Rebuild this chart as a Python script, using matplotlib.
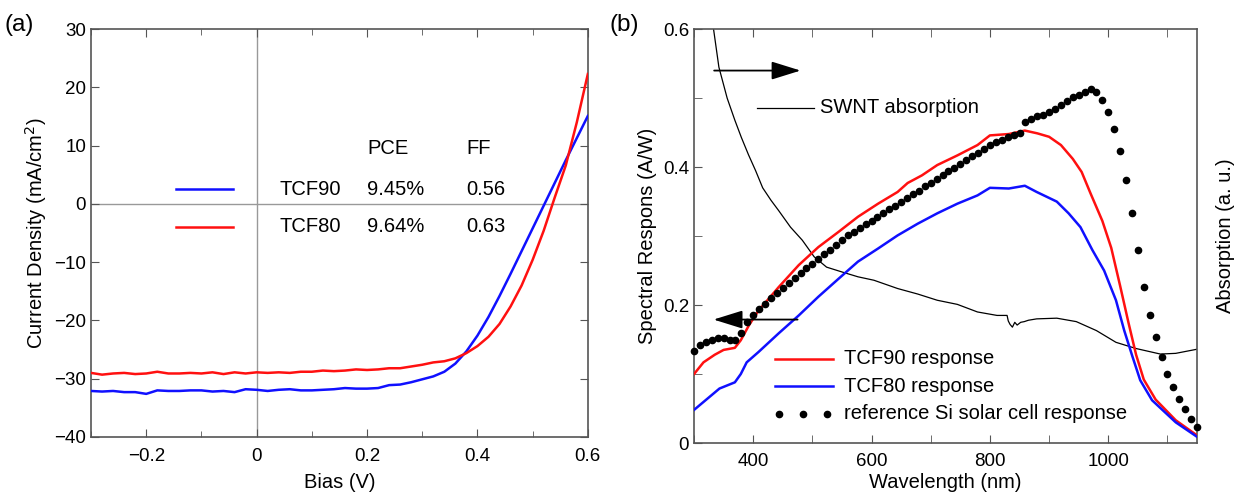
import numpy as np
import matplotlib
matplotlib.use("Agg")
import matplotlib.pyplot as plt
from matplotlib.ticker import MultipleLocator, FixedLocator

plt.rcParams['font.family'] = ['Liberation Sans', 'DejaVu Sans']

# ---- panel (a): J-V curves ----
bias = [-0.30, -0.28, -0.26, -0.24, -0.22, -0.20, -0.18, -0.16, -0.14, -0.12,
        -0.10, -0.08, -0.06, -0.04, -0.02, 0.00, 0.02, 0.04, 0.06, 0.08,
        0.10, 0.12, 0.14, 0.16, 0.18, 0.20, 0.22, 0.24, 0.26, 0.28,
        0.30, 0.32, 0.34, 0.36, 0.38, 0.40, 0.42, 0.44, 0.46, 0.48,
        0.50, 0.52, 0.54, 0.56, 0.58, 0.60]
j_tcf90 = [-32.1, -32.2, -32.1, -32.3, -32.3, -32.6, -32.0, -32.1, -32.1, -32.0,
           -32.0, -32.2, -32.1, -32.3, -31.8, -31.9, -32.1, -31.9, -31.8, -32.0,
           -32.0, -31.9, -31.8, -31.6, -31.7, -31.7, -31.6, -31.1, -31.0, -30.6,
           -30.1, -29.6, -28.8, -27.4, -25.3, -22.6, -19.4, -15.8, -12.0, -8.1,
           -4.2, -0.3, 3.6, 7.5, 11.3, 15.1]
j_tcf80 = [-29.0, -29.3, -29.1, -29.0, -29.2, -29.1, -28.8, -29.1, -29.1, -29.0,
           -29.1, -28.9, -29.2, -28.9, -29.1, -28.9, -29.0, -28.9, -29.0, -28.8,
           -28.8, -28.6, -28.7, -28.6, -28.4, -28.5, -28.4, -28.2, -28.2, -27.9,
           -27.6, -27.2, -27.0, -26.5, -25.6, -24.4, -22.8, -20.6, -17.6, -14.0,
           -9.6, -4.6, 1.1, 6.6, 14.0, 22.3]
legend_names = ['TCF90', 'TCF80']
legend_pce = ['9.45%', '9.64%']
legend_ff = ['0.56', '0.63']

# ---- panel (b): spectral response ----
wl_tcf90 = [300, 316, 335, 350, 369, 379, 393, 409, 443, 477, 510, 544, 577, 611,
            644, 661, 685, 711, 745, 779, 800, 832, 859, 880, 900, 920, 940, 955,
            970, 990, 1005, 1020, 1034, 1047, 1060, 1080, 1114, 1150]
sr_tcf90 = [0.100, 0.117, 0.128, 0.135, 0.138, 0.149, 0.171, 0.192, 0.226, 0.258,
            0.284, 0.306, 0.328, 0.347, 0.364, 0.377, 0.388, 0.403, 0.417, 0.432,
            0.446, 0.448, 0.453, 0.449, 0.444, 0.432, 0.412, 0.393, 0.362, 0.322,
            0.283, 0.228, 0.175, 0.128, 0.092, 0.063, 0.033, 0.011]
wl_tcf80 = [300, 343, 369, 379, 389, 409, 443, 477, 510, 544, 577, 611, 644, 678,
            711, 745, 779, 800, 832, 859, 879, 913, 933, 953, 973, 993, 1013, 1027,
            1041, 1054, 1074, 1114, 1150]
sr_tcf80 = [0.048, 0.079, 0.088, 0.100, 0.117, 0.132, 0.159, 0.185, 0.212, 0.238,
            0.263, 0.282, 0.301, 0.318, 0.333, 0.347, 0.359, 0.370, 0.369, 0.373,
            0.364, 0.350, 0.333, 0.313, 0.280, 0.250, 0.207, 0.163, 0.125, 0.091,
            0.062, 0.030, 0.009]
wl_ref = list(range(300, 1151, 10))
sr_ref = [0.133, 0.142, 0.146, 0.149, 0.152, 0.152, 0.150, 0.149, 0.160, 0.175,
          0.185, 0.195, 0.202, 0.210, 0.218, 0.225, 0.232, 0.239, 0.246, 0.254,
          0.260, 0.267, 0.274, 0.280, 0.287, 0.294, 0.301, 0.306, 0.312, 0.317,
          0.322, 0.328, 0.333, 0.339, 0.344, 0.350, 0.355, 0.361, 0.366, 0.372,
          0.377, 0.383, 0.388, 0.394, 0.399, 0.405, 0.410, 0.416, 0.421, 0.427,
          0.432, 0.436, 0.440, 0.443, 0.446, 0.450, 0.466, 0.470, 0.474, 0.476,
          0.480, 0.485, 0.490, 0.496, 0.501, 0.505, 0.509, 0.513, 0.509, 0.498,
          0.480, 0.456, 0.424, 0.381, 0.334, 0.280, 0.226, 0.186, 0.153, 0.125,
          0.100, 0.081, 0.064, 0.050, 0.035, 0.023]
wl_swnt = [310, 333, 342, 356, 369, 380, 392, 404, 416, 430, 443, 463, 483, 503,
           524, 550, 577, 604, 644, 678, 711, 745, 779, 812, 829, 831, 834, 838,
           842, 846, 852, 858, 865, 879, 913, 946, 980, 1013, 1047, 1088, 1114, 1150]
abs_swnt = [0.70, 0.60, 0.545, 0.500, 0.468, 0.443, 0.418, 0.395, 0.370, 0.352,
            0.337, 0.313, 0.294, 0.270, 0.255, 0.248, 0.241, 0.236, 0.224, 0.216,
            0.207, 0.201, 0.190, 0.185, 0.185, 0.177, 0.172, 0.168, 0.175, 0.171,
            0.175, 0.176, 0.178, 0.180, 0.181, 0.176, 0.163, 0.146, 0.137, 0.129,
            0.130, 0.136]

RED = '#ff1010'
BLUE = '#1010ff'
SPINE = '#555555'
FS_TICK = 13.5
FS_LAB = 14.5
FS_TXT = 14.5

fig = plt.figure(figsize=(12.42, 4.98), dpi=100)
ax1 = fig.add_axes([0.0733, 0.1225, 0.400, 0.819])
ax2 = fig.add_axes([0.5588, 0.1104, 0.405, 0.831])

# panel a
ax1.axhline(0, color='#999999', lw=1, zorder=1)
ax1.axvline(0, color='#999999', lw=1, zorder=1)
ax1.plot(bias, j_tcf90, color=BLUE, lw=1.8, zorder=3)
ax1.plot(bias, j_tcf80, color=RED, lw=1.8, zorder=3)
ax1.set_xlim(-0.3, 0.6)
ax1.set_ylim(-40, 30)
ax1.xaxis.set_major_locator(FixedLocator([-0.2, 0, 0.2, 0.4, 0.6]))
ax1.xaxis.set_minor_locator(MultipleLocator(0.1))
ax1.yaxis.set_major_locator(MultipleLocator(10))
ax1.set_xticklabels(['\u22120.2', '0', '0.2', '0.4', '0.6'])
ax1.set_xlabel('Bias (V)', fontsize=FS_LAB, labelpad=6)
ax1.set_ylabel('Current Density (mA/cm$^2$)', fontsize=FS_LAB)
ax1.tick_params(which='both', direction='in', top=True, right=True,
                labelsize=FS_TICK, color=SPINE)
ax1.tick_params(axis='x', pad=8)
ax1.tick_params(which='major', length=6)
ax1.tick_params(which='minor', length=4)
for s in ax1.spines.values():
    s.set_color(SPINE)
    s.set_linewidth(1.2)

ax1.text(0.2, 9.5, 'PCE', fontsize=FS_TXT, va='center')
ax1.text(0.38, 9.5, 'FF', fontsize=FS_TXT, va='center')
for yy, col, name, pce, ff in zip([2.5, -3.9], [BLUE, RED], legend_names, legend_pce, legend_ff):
    ax1.plot([-0.146, -0.042], [yy, yy], color=col, lw=1.8)
    ax1.text(0.041, yy, name, fontsize=FS_TXT, va='center')
    ax1.text(0.2, yy, pce, fontsize=FS_TXT, va='center')
    ax1.text(0.38, yy, ff, fontsize=FS_TXT, va='center')

# panel b
ax2.plot(wl_tcf90, sr_tcf90, color=RED, lw=1.8, zorder=3)
ax2.plot(wl_tcf80, sr_tcf80, color=BLUE, lw=1.8, zorder=3)
ax2.plot(wl_ref, sr_ref, 'o', color='k', ms=4.5, zorder=4, clip_on=False)
ax2.plot(wl_swnt, abs_swnt, color='k', lw=0.9, zorder=2)
ax2.set_xlim(300, 1150)
ax2.set_ylim(0, 0.6)
ax2.xaxis.set_major_locator(FixedLocator([400, 600, 800, 1000]))
ax2.xaxis.set_minor_locator(MultipleLocator(100))
ax2.yaxis.set_major_locator(FixedLocator([0, 0.2, 0.4, 0.6]))
ax2.yaxis.set_minor_locator(MultipleLocator(0.1))
ax2.set_yticklabels(['0', '0.2', '0.4', '0.6'])
ax2.set_xlabel('Wavelength (nm)', fontsize=FS_LAB, labelpad=2)
ax2.set_ylabel('Spectral Respons (A/W)', fontsize=FS_LAB)
ax2.tick_params(which='both', direction='in', top=True, right=False,
                labelsize=FS_TICK, color=SPINE)
ax2.tick_params(axis='x', pad=7)
ax2.tick_params(which='major', length=6)
ax2.tick_params(which='minor', length=6)
for s in ax2.spines.values():
    s.set_color(SPINE)
    s.set_linewidth(1.2)

ax2r = ax2.twinx()
ax2r.set_ylim(0, 0.6)
ax2r.set_yticks([])
ax2r.set_ylabel('Absorption (a. u.)', fontsize=FS_LAB, labelpad=14)
for s in ax2r.spines.values():
    s.set_visible(False)

# arrows pointing to the relevant axes
ax2.annotate('', xy=(480, 0.540), xytext=(334, 0.540),
             arrowprops=dict(arrowstyle='-|>,head_length=0.9,head_width=0.28',
                             color='k', lw=1.3, mutation_scale=20, shrinkA=0, shrinkB=0))
ax2.annotate('', xy=(333, 0.179), xytext=(475, 0.179),
             arrowprops=dict(arrowstyle='-|>,head_length=0.9,head_width=0.28',
                             color='k', lw=1.3, mutation_scale=20, shrinkA=0, shrinkB=0))

# custom legends
ax2.plot([406, 503], [0.486, 0.486], color='k', lw=0.9)
ax2.text(513, 0.486, 'SWNT absorption', fontsize=FS_TXT, va='center')
ax2.plot([436, 535], [0.122, 0.122], color=RED, lw=1.8)
ax2.text(554, 0.122, 'TCF90 response', fontsize=FS_TXT, va='center')
ax2.plot([436, 535], [0.082, 0.082], color=BLUE, lw=1.8)
ax2.text(554, 0.082, 'TCF80 response', fontsize=FS_TXT, va='center')
ax2.plot([443, 484, 525], [0.0425] * 3, 'o', color='k', ms=4.5)
ax2.text(554, 0.0425, 'reference Si solar cell response', fontsize=FS_TXT, va='center')

fig.text(0.004, 0.95, '(a)', fontsize=17.5, va='center')
fig.text(0.491, 0.95, '(b)', fontsize=17.5, va='center')

fig.savefig('out.png', dpi=100)
